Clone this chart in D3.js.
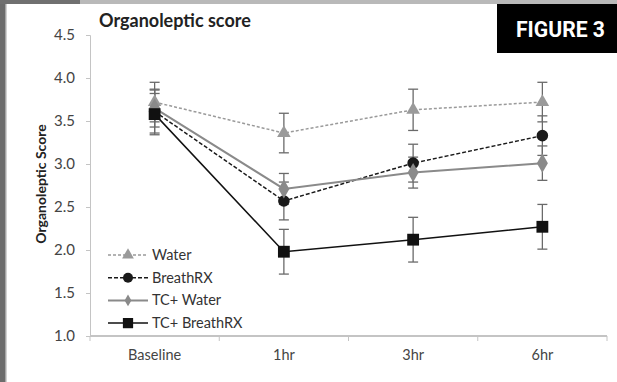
<!DOCTYPE html>
<html>
<head>
<meta charset="utf-8">
<script src="https://cdn.jsdelivr.net/npm/d3@7"></script>
<style>
  body { margin: 0; background: #fff; }
  svg text { font-family: Lato, "Open Sans", sans-serif; }
</style>
</head>
<body>
<div id="chart"></div>
<script>
// time points and y ticks
const timePoints = ['Baseline', '1hr', '3hr', '6hr'];
const yTicks = [1.0, 1.5, 2.0, 2.5, 3.0, 3.5, 4.0, 4.5];

// mean scores
const waterMean = [3.72, 3.36, 3.63, 3.72];
const breathMean = [3.61, 2.57, 3.01, 3.33];
const tcWaterMean = [3.65, 2.71, 2.90, 3.01];
const tcBreathMean = [3.58, 1.98, 2.12, 2.27];

// error bar half widths
const waterErr = [0.23, 0.23, 0.24, 0.23];
const breathErr = [0.25, 0.22, 0.22, 0.23];
const tcWaterErr = [0.22, 0.18, 0.18, 0.20];
const tcBreathErr = [0.24, 0.26, 0.26, 0.26];

const seriesNames = ['Water', 'BreathRX', 'TC+ Water', 'TC+ BreathRX'];

const series = [
  {name: seriesNames[0], mean: waterMean, err: waterErr, color: '#9a9a9a', dash: '3,2', width: 1.5, marker: 'triangle', size: 80},
  {name: seriesNames[1], mean: breathMean, err: breathErr, color: '#1a1a1a', dash: '4,2', width: 1.5, marker: 'circle', size: 105},
  {name: seriesNames[2], mean: tcWaterMean, err: tcWaterErr, color: '#8a8a8a', dash: null, width: 2, marker: 'diamond', size: 105},
  {name: seriesNames[3], mean: tcBreathMean, err: tcBreathErr, color: '#111', dash: null, width: 1.5, marker: 'square', size: 140}
];

const W = 617, H = 382;
const svg = d3.select('#chart').append('svg').attr('width', W).attr('height', H);

// page frame bits
svg.append('rect').attr('x', 0).attr('y', 0).attr('width', 5).attr('height', H).attr('fill', '#6c6c6c');
svg.append('rect').attr('x', 5).attr('y', 0).attr('width', 1.5).attr('height', H).attr('fill', '#a5a5a5');
svg.append('rect').attr('x', 0).attr('y', 0).attr('width', 80).attr('height', 4).attr('fill', '#707070');
svg.append('rect').attr('x', 80).attr('y', 0).attr('width', W - 80).attr('height', 4).attr('fill', '#b9b9b9');

// FIGURE 3 tag
svg.append('rect').attr('x', 497).attr('y', 4).attr('width', 120).attr('height', 49).attr('fill', '#000');
svg.append('text').attr('x', 516).attr('y', 37)
  .attr('fill', '#fff').style('font-family', 'Roboto, "Liberation Sans", sans-serif')
  .style('font-weight', 'bold').style('font-size', '22px')
  .attr('textLength', 89).attr('lengthAdjust', 'spacingAndGlyphs')
  .text('FIGURE 3');

const x = d3.scaleBand().domain(timePoints).range([90, 607]);
const y = d3.scaleLinear().domain([1, 4.5]).range([336, 35]);

// axes
const yAxis = d3.axisLeft(y).tickValues(yTicks).tickFormat(d3.format('.1f')).tickSize(4).tickPadding(11);
const gy = svg.append('g').attr('transform', 'translate(90,0)').call(yAxis);
gy.select('.domain').attr('stroke', '#c4c4c4');
gy.selectAll('line').attr('stroke', '#c4c4c4');
gy.selectAll('text').attr('fill', '#444').style('font-size', '15px');

const xAxis = d3.axisBottom(x).tickSize(0).tickPadding(14);
const gx = svg.append('g').attr('transform', 'translate(0,336)').call(xAxis);
gx.select('.domain').attr('stroke', '#c4c4c4').attr('stroke-width', 2).attr('d', 'M90,0H607');
gx.selectAll('text').attr('fill', '#444').style('font-size', '14.5px');
// band boundary ticks
svg.append('g').selectAll('line')
  .data(timePoints.map(t => x(t)).concat([x.range()[1]]))
  .join('line')
  .attr('x1', d => d).attr('x2', d => d).attr('y1', 336).attr('y2', 341)
  .attr('stroke', '#c4c4c4');

// titles
svg.append('text').attr('x', 99).attr('y', 27).style('font-size', '18px').style('font-weight', 'bold')
  .attr('fill', '#222').text('Organoleptic score');
svg.append('text').attr('transform', 'translate(46,184) rotate(-90)').attr('text-anchor', 'middle')
  .style('font-size', '14px').style('font-weight', 'bold').attr('fill', '#222').text('Organoleptic Score');

const cx = t => x(t) + x.bandwidth() / 2;
const symbolType = {triangle: d3.symbolTriangle, circle: d3.symbolCircle, diamond: d3.symbolDiamond, square: d3.symbolSquare};

// error bars
series.forEach(s => {
  const g = svg.append('g');
  timePoints.forEach((t, i) => {
    const hi = y(s.mean[i] + s.err[i]), lo = y(s.mean[i] - s.err[i]);
    g.append('line').attr('x1', cx(t)).attr('x2', cx(t)).attr('y1', hi).attr('y2', lo)
      .attr('stroke', '#6a6a6a').attr('stroke-width', 1.3);
    [hi, lo].forEach(v => g.append('line').attr('x1', cx(t) - 5).attr('x2', cx(t) + 5)
      .attr('y1', v).attr('y2', v).attr('stroke', '#6a6a6a').attr('stroke-width', 1.3));
  });
});

// lines and markers
const line = d3.line().x((d, i) => cx(timePoints[i])).y(d => y(d));
series.forEach(s => {
  svg.append('path').attr('d', line(s.mean)).attr('fill', 'none')
    .attr('stroke', s.color).attr('stroke-width', s.width).attr('stroke-dasharray', s.dash);
  svg.append('g').selectAll('path').data(s.mean).join('path')
    .attr('d', d3.symbol().type(symbolType[s.marker]).size(s.size))
    .attr('transform', (d, i) => `translate(${cx(timePoints[i])},${y(d)})`)
    .attr('fill', s.color);
});

// legend
const legend = svg.append('g');
series.forEach((s, i) => {
  const ly = 255 + i * 22.7;
  legend.append('line').attr('x1', 108).attr('x2', 148).attr('y1', ly).attr('y2', ly)
    .attr('stroke', s.color).attr('stroke-width', s.width).attr('stroke-dasharray', s.dash);
  legend.append('path').attr('d', d3.symbol().type(symbolType[s.marker]).size(s.marker === 'diamond' ? 40 : s.size * 0.75))
    .attr('transform', `translate(128,${ly})`).attr('fill', s.color);
  legend.append('text').attr('x', 152).attr('y', ly + 5).style('font-size', '14.5px').attr('fill', '#333').text(s.name);
});
</script>
</body>
</html>
